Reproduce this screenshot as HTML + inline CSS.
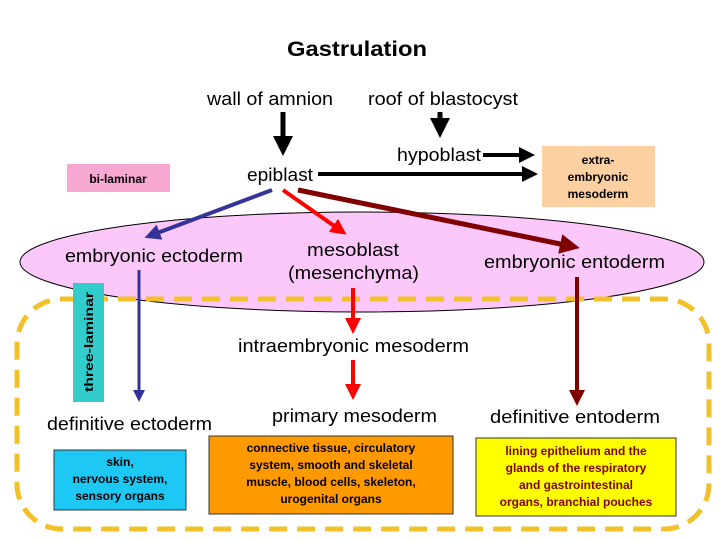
<!DOCTYPE html>
<html><head><style>
html,body{margin:0;padding:0;background:#fff;}
svg{display:block;}
text{font-family:"Liberation Sans",Arial,sans-serif;}
</style></head><body>
<svg width="720" height="540" viewBox="0 0 720 540" xmlns="http://www.w3.org/2000/svg">
<defs>
<marker id="ak" markerWidth="4" markerHeight="4" refX="2" refY="2" orient="auto" markerUnits="strokeWidth"><path d="M0,0 L4,2 L0,4 z" fill="#000"/></marker>
<marker id="ab" markerWidth="4" markerHeight="4" refX="2" refY="2" orient="auto" markerUnits="strokeWidth"><path d="M0,0 L4,2 L0,4 z" fill="#333399"/></marker>
<marker id="ar" markerWidth="4" markerHeight="4" refX="2" refY="2" orient="auto" markerUnits="strokeWidth"><path d="M0,0 L4,2 L0,4 z" fill="#ff0000"/></marker>
<marker id="ad" markerWidth="4" markerHeight="4" refX="2" refY="2" orient="auto" markerUnits="strokeWidth"><path d="M0,0 L4,2 L0,4 z" fill="#800000"/></marker>
</defs>
<g lengthAdjust="spacingAndGlyphs">
<text x="287" y="56" font-size="21" font-weight="bold" textLength="140" lengthAdjust="spacingAndGlyphs">Gastrulation</text>
<text x="207" y="105" font-size="18" textLength="126" lengthAdjust="spacingAndGlyphs">wall of amnion</text>
<text x="368" y="105" font-size="18" textLength="150" lengthAdjust="spacingAndGlyphs">roof of blastocyst</text>
<line x1="283" y1="112" x2="283" y2="146" stroke="#000" stroke-width="5" marker-end="url(#ak)"/>
<line x1="440" y1="112" x2="440" y2="128" stroke="#000" stroke-width="5" marker-end="url(#ak)"/>
<text x="397" y="161" font-size="18" textLength="84" lengthAdjust="spacingAndGlyphs">hypoblast</text>
<line x1="483" y1="155" x2="527" y2="155" stroke="#000" stroke-width="4" marker-end="url(#ak)"/>
<text x="247" y="181" font-size="18" textLength="66" lengthAdjust="spacingAndGlyphs">epiblast</text>
<line x1="318" y1="174" x2="530" y2="174" stroke="#000" stroke-width="4" marker-end="url(#ak)"/>
<rect x="542" y="146" width="113" height="61" fill="#fcd0a0"/>
<text font-size="12" font-weight="bold" text-anchor="middle"><tspan x="598" y="164">extra-</tspan><tspan x="598" y="181">embryonic</tspan><tspan x="598" y="198">mesoderm</tspan></text>
<rect x="67" y="164" width="103" height="28" fill="#f6a8d2"/>
<text x="118" y="183" font-size="12" font-weight="bold" text-anchor="middle">bi-laminar</text>
<ellipse cx="362" cy="262" rx="342" ry="50" fill="#fcc8fa" stroke="#000" stroke-width="1"/>
<line x1="272" y1="190" x2="152" y2="235" stroke="#333399" stroke-width="4" marker-end="url(#ab)"/>
<line x1="283" y1="190" x2="340" y2="230" stroke="#ff0000" stroke-width="4" marker-end="url(#ar)"/>
<line x1="298" y1="190" x2="570" y2="246" stroke="#800000" stroke-width="5" marker-end="url(#ad)"/>
<text x="65" y="262" font-size="18" textLength="178" lengthAdjust="spacingAndGlyphs">embryonic ectoderm</text>
<text x="307" y="256" font-size="18" textLength="92" lengthAdjust="spacingAndGlyphs">mesoblast</text>
<text x="288" y="279" font-size="18" textLength="131" lengthAdjust="spacingAndGlyphs">(mesenchyma)</text>
<text x="484" y="268" font-size="18" textLength="181" lengthAdjust="spacingAndGlyphs">embryonic entoderm</text>
<rect x="17" y="299" width="692" height="230" rx="45" fill="none" stroke="#f2c12a" stroke-width="5" stroke-dasharray="18 10"/>
<rect x="73" y="283" width="31" height="119" fill="#33cccc"/>
<text transform="translate(93,392) rotate(-90)" font-size="12" font-weight="bold" textLength="100" lengthAdjust="spacingAndGlyphs">three-laminar</text>
<line x1="139" y1="270" x2="139" y2="396" stroke="#333399" stroke-width="3" marker-end="url(#ab)"/>
<line x1="353" y1="288" x2="353" y2="326" stroke="#ff0000" stroke-width="4" marker-end="url(#ar)"/>
<line x1="353" y1="360" x2="353" y2="392" stroke="#ff0000" stroke-width="4" marker-end="url(#ar)"/>
<line x1="577" y1="277" x2="577" y2="398" stroke="#800000" stroke-width="4" marker-end="url(#ad)"/>
<text x="238" y="352" font-size="18" textLength="231" lengthAdjust="spacingAndGlyphs">intraembryonic mesoderm</text>
<text x="47" y="430" font-size="18" textLength="165" lengthAdjust="spacingAndGlyphs">definitive ectoderm</text>
<text x="272" y="422" font-size="18" textLength="165" lengthAdjust="spacingAndGlyphs">primary mesoderm</text>
<text x="490" y="423" font-size="18" textLength="170" lengthAdjust="spacingAndGlyphs">definitive entoderm</text>
<rect x="54" y="450" width="132" height="60" fill="#1ec8f5" stroke="#333" stroke-width="1"/>
<text font-size="12" font-weight="bold" text-anchor="middle"><tspan x="120" y="466">skin,</tspan><tspan x="120" y="483">nervous system,</tspan><tspan x="120" y="500">sensory organs</tspan></text>
<rect x="209" y="436" width="244" height="78" fill="#ff9900" stroke="#333" stroke-width="1"/>
<text font-size="12" font-weight="bold" text-anchor="middle"><tspan x="331" y="452">connective tissue, circulatory</tspan><tspan x="331" y="469">system, smooth and skeletal</tspan><tspan x="331" y="486">muscle, blood cells, skeleton,</tspan><tspan x="331" y="503">urogenital organs</tspan></text>
<rect x="476" y="438" width="200" height="78" fill="#ffff00" stroke="#333" stroke-width="1"/>
<text font-size="12" font-weight="bold" text-anchor="middle" fill="#800000"><tspan x="576" y="455">lining epithelium and the</tspan><tspan x="576" y="472">glands of the respiratory</tspan><tspan x="576" y="489">and gastrointestinal</tspan><tspan x="576" y="506">organs, branchial pouches</tspan></text>
</g>
</svg>
</body></html>
